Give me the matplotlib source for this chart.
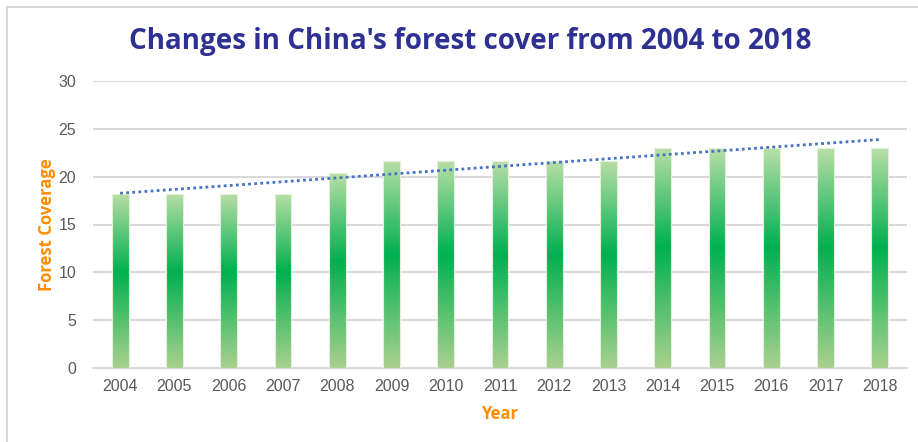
import numpy as np
import matplotlib
matplotlib.use("Agg")
import matplotlib.pyplot as plt
from matplotlib.colors import LinearSegmentedColormap
from matplotlib.lines import Line2D

# data
years = ["2004", "2005", "2006", "2007", "2008", "2009", "2010", "2011",
         "2012", "2013", "2014", "2015", "2016", "2017", "2018"]
coverage = [18.21, 18.21, 18.21, 18.21, 20.36, 21.63, 21.63, 21.63,
            21.63, 21.63, 22.96, 22.96, 22.96, 22.96, 22.96]

plt.rcParams['font.family'] = ['Liberation Sans', 'DejaVu Sans']

fig = plt.figure(figsize=(9.18, 4.42), dpi=100)
ax = fig.add_axes([93 / 918, 1 - 368 / 442, (907 - 93) / 918, 287 / 442])

x = np.arange(len(years))
bars = ax.bar(x, coverage, width=0.31, color='none', edgecolor='none', zorder=3)

# vertical gradient inside each bar: light at the ends, deep green in the middle
cmap = LinearSegmentedColormap.from_list(
    "grn", [(0.0, "#A9D18E"), (0.55, "#00B050"), (1.0, "#B9DEA6")])
grad = np.linspace(0, 1, 256).reshape(-1, 1)
for b in bars:
    x0, y0 = b.get_x(), b.get_y()
    w, h = b.get_width(), b.get_height()
    im = ax.imshow(grad, cmap=cmap, origin='lower', aspect='auto',
                   extent=[x0, x0 + w, y0, y0 + h], zorder=3)
    im.set_clip_path(b)
    ax.add_patch(plt.Rectangle((x0, y0), w, h, fill=False,
                               edgecolor='#E2F0D9', linewidth=0.8, zorder=4))

# linear trendline
k, c = np.polyfit(x, coverage, 1)
ax.plot(x, k * x + c, linestyle=(0, (1, 1.2)), color='#4472C4',
        linewidth=2.0, zorder=5)

ax.set_xlim(-0.5, len(years) - 0.5)
ax.set_ylim(0, 30)
ax.set_yticks(range(0, 31, 5))
ax.set_xticks(x)
ax.set_xticklabels(years)
ax.grid(axis='y', color='#D9D9D9', linewidth=1.5, zorder=0)
ax.set_axisbelow(True)
for s in ['top', 'right', 'left']:
    ax.spines[s].set_visible(False)
ax.spines['bottom'].set_color('#D9D9D9')
ax.spines['bottom'].set_linewidth(1.5)
ax.tick_params(axis='both', length=0, colors='#595959', labelsize=11.5)
ax.tick_params(axis='y', pad=12)
ax.tick_params(axis='x', pad=8)

ax.set_xlabel('Year', color='#FF8C00', fontsize=12, fontweight='bold',
              family=['Open Sans', 'DejaVu Sans'], labelpad=8)
ax.set_ylabel('Forest Coverage', color='#FF8C00', fontsize=12, fontweight='bold',
              family=['Open Sans', 'DejaVu Sans'], labelpad=2)

fig.text(470 / 918, 1 - 42 / 442, "Changes in China's forest cover from 2004 to 2018",
         ha='center', va='center', fontsize=20, fontweight='bold',
         color='#2E3192', family=['Open Sans', 'DejaVu Sans'])

# chart-area border (top and left edges visible)
fig.add_artist(Line2D([7 / 918, 1], [1 - 7 / 442, 1 - 7 / 442],
                      transform=fig.transFigure, color='#D9D9D9', linewidth=1.5))
fig.add_artist(Line2D([7 / 918, 7 / 918], [0, 1 - 7 / 442],
                      transform=fig.transFigure, color='#D9D9D9', linewidth=1.5))

fig.savefig("out.png", dpi=100)
